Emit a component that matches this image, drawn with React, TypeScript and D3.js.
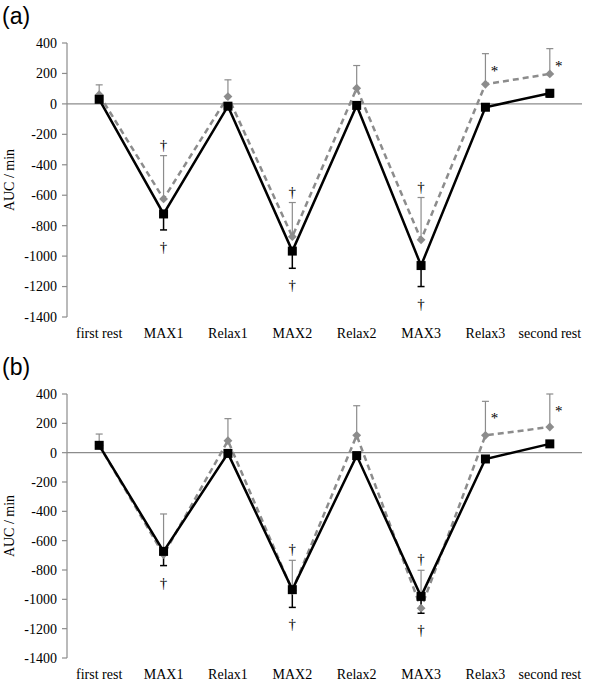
import React from 'react';
import * as d3 from 'd3';

const categories = ["first rest", "MAX1", "Relax1", "MAX2", "Relax2", "MAX3", "Relax3", "second rest"];
const yTicks = [400, 200, 0, -200, -400, -600, -800, -1000, -1200, -1400];

// panel (a)
const grayA = [60, -624, 48, -872, 103, -893, 129, 197];
const grayUpA = [125, -340, 158, -648, 252, -615, 330, 363];
const blackA = [30, -723, -15, -967, -10, -1062, -22, 70];
const blackLowA: (number | null)[] = [null, -828, null, -1080, null, -1200, null, 45];
const daggerTopA = ["MAX1", "MAX2", "MAX3"];
const daggerBottomA = ["MAX1", "MAX2", "MAX3"];
const starA = ["Relax3", "second rest"];

// panel (b)
const grayB = [50, -695, 82, -940, 118, -1060, 118, 175];
const grayUpB = [127, -418, 232, -734, 320, -802, 350, 400];
const blackB = [50, -673, -5, -934, -20, -980, -43, 60];
const blackLowB: (number | null)[] = [null, -770, null, -1055, null, -1095, null, null];
const daggerTopB = ["MAX2", "MAX3"];
const daggerBottomB = ["MAX1", "MAX2", "MAX3"];
const starB = ["Relax3", "second rest"];

const GRAY = "#8c8c8c";
const serif = "Liberation Serif, Tinos, Times New Roman, DejaVu Serif, serif";

interface PanelProps {
    label: string,
    top: number,
    bottom: number,
    gray: number[],
    grayUp: number[],
    black: number[],
    blackLow: (number | null)[],
    daggerTop: string[],
    daggerBottom: string[],
    stars: string[],
}

function Panel({label, top, bottom, gray, grayUp, black, blackLow, daggerTop, daggerBottom, stars}: PanelProps) {
    const left = 67;
    const right = 582;
    const x = d3.scaleBand<string>().domain(categories).range([left, right]);
    const cx = (c: string) => (x(c) as number) + x.bandwidth() / 2;
    const y = d3.scaleLinear().domain([-1400, 400]).range([bottom, top]);
    const line = d3.line<number>()
        .x((d, i) => cx(categories[i]))
        .y(d => y(d));
    const capW = 3.5;
    const idx = (c: string) => categories.indexOf(c);
    const txt = {fontFamily: serif, fill: "#000"};

    return (
        <g>
            <text x={2} y={top - 19} style={{fontFamily: "Liberation Sans, Arial, sans-serif"}} fontSize={23}>{label}</text>
            <text transform={`translate(14,${(top + bottom) / 2}) rotate(-90)`} textAnchor="middle"
                  style={txt} fontSize={14}>AUC / min</text>
            {/* y axis */}
            <line x1={left} x2={left} y1={y(400)} y2={y(-1400)} stroke={GRAY} strokeWidth={1.2}/>
            {yTicks.map(t => (
                <g key={t}>
                    <line x1={left - 5} x2={left} y1={y(t)} y2={y(t)} stroke={GRAY} strokeWidth={1.2}/>
                    <text x={left - 10} y={y(t)} dy="0.35em" textAnchor="end" style={txt}
                          fontSize={14}>{t}</text>
                </g>
            ))}
            <line x1={left} x2={right} y1={y(0)} y2={y(0)} stroke={GRAY} strokeWidth={1.2}/>
            {categories.map(c => (
                <text key={c} x={cx(c)} y={bottom + 21} textAnchor="middle" style={txt}
                      fontSize={14}>{c}</text>
            ))}
            {/* gray error bars (upward) */}
            {grayUp.map((v, i) => (
                <g key={"ge" + i} stroke={GRAY} strokeWidth={1.2}>
                    <line x1={cx(categories[i])} x2={cx(categories[i])} y1={y(gray[i])} y2={y(v)}/>
                    <line x1={cx(categories[i]) - capW} x2={cx(categories[i]) + capW} y1={y(v)} y2={y(v)}/>
                </g>
            ))}
            {/* black error bars (downward) */}
            {blackLow.map((v, i) => v === null ? null : (
                <g key={"be" + i} stroke="#000" strokeWidth={1.5}>
                    <line x1={cx(categories[i])} x2={cx(categories[i])} y1={y(black[i])} y2={y(v)}/>
                    <line x1={cx(categories[i]) - capW} x2={cx(categories[i]) + capW} y1={y(v)} y2={y(v)}/>
                </g>
            ))}
            <path d={line(gray) as string} fill="none" stroke={GRAY} strokeWidth={2.5} strokeDasharray="6,4"/>
            <path d={line(black) as string} fill="none" stroke="#000" strokeWidth={2.5}/>
            {gray.map((v, i) => (
                <path key={"gd" + i} d={d3.symbol(d3.symbolDiamond2, 50)() as string}
                      transform={`translate(${cx(categories[i])},${y(v)})`} fill={GRAY}/>
            ))}
            {black.map((v, i) => (
                <rect key={"bs" + i} x={cx(categories[i]) - 4.5} y={y(v) - 4.5} width={9} height={9} fill="#000"/>
            ))}
            {daggerTop.map(c => (
                <text key={"dt" + c} x={cx(c)} y={y(grayUp[idx(c)]) - 6} textAnchor="middle"
                      style={txt} fontSize={15}>†</text>
            ))}
            {daggerBottom.map(c => (
                <text key={"db" + c} x={cx(c)} y={y(blackLow[idx(c)] as number) + 22} textAnchor="middle"
                      style={txt} fontSize={15}>†</text>
            ))}
            {stars.map(c => (
                <text key={"st" + c} x={cx(c) + 9} y={y(grayUp[idx(c)]) + 22} textAnchor="middle"
                      style={txt} fontSize={15}>*</text>
            ))}
        </g>
    );
}

export default function App() {
    return (
        <div style={{position: "absolute", left: 0, top: 0}}>
            <svg width={600} height={683} style={{display: "block", background: "#fff"}}>
                <Panel label="(a)" top={43} bottom={317} gray={grayA} grayUp={grayUpA} black={blackA}
                       blackLow={blackLowA} daggerTop={daggerTopA} daggerBottom={daggerBottomA} stars={starA}/>
                <Panel label="(b)" top={394} bottom={658} gray={grayB} grayUp={grayUpB} black={blackB}
                       blackLow={blackLowB} daggerTop={daggerTopB} daggerBottom={daggerBottomB} stars={starB}/>
            </svg>
        </div>
    );
}
